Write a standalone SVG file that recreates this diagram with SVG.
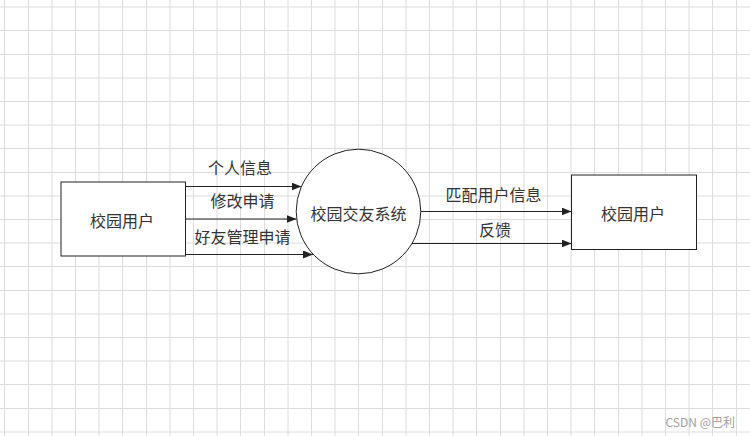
<svg xmlns="http://www.w3.org/2000/svg" width="750" height="436" viewBox="0 0 750 436">
<defs>
<style>
.grid{stroke:#dcdcdc;stroke-width:1;fill:none}
.shape{fill:#ffffff;stroke:#222222;stroke-width:1}
.edge{stroke:#222222;stroke-width:1;fill:none;marker-end:url(#arr)}
.t{font-family:"Noto Sans CJK SC","Noto Sans",sans-serif;font-size:16px;fill:#333333;text-anchor:middle;dominant-baseline:central}
.wm{font-family:"Noto Sans CJK SC","Noto Sans",sans-serif;font-size:12px;fill:#a0a0a0;text-anchor:end;dominant-baseline:central}
</style>
<marker id="arr" markerUnits="userSpaceOnUse" markerWidth="10" markerHeight="8" refX="10" refY="4" orient="auto">
<path d="M0,0 L10,4 L0,8 Z" fill="#222222"/>
</marker>
</defs>
<rect width="750" height="436" fill="#ffffff"/>
<path class="grid" d="M4.5,0V436M28.5,0V436M52,0V436M75.5,0V436M99,0V436M122.5,0V436M146.5,0V436M170,0V436M193.5,0V436M217,0V436M240.5,0V436M264.5,0V436M288,0V436M311.5,0V436M335,0V436M358.5,0V436M382.5,0V436M406,0V436M429.5,0V436M453,0V436M476.5,0V436M500.5,0V436M524,0V436M547.5,0V436M571,0V436M594.5,0V436M618.5,0V436M642,0V436M665.5,0V436M689,0V436M712.5,0V436M736.5,0V436 M0,7H750M0,30.5H750M0,54.5H750M0,78H750M0,101.5H750M0,125H750M0,148.5H750M0,172.5H750M0,196H750M0,219.5H750M0,243H750M0,266.5H750M0,290.5H750M0,314H750M0,337.5H750M0,361H750M0,384.5H750M0,408.5H750M0,432H750"/>
<g id="edges">
<line class="edge" x1="185.5" y1="186.5" x2="301.5" y2="186.5"/>
<line class="edge" x1="185.5" y1="219" x2="296.5" y2="219"/>
<line class="edge" x1="185.5" y1="254.5" x2="313" y2="254.5"/>
<line class="edge" x1="420.5" y1="211.5" x2="571.5" y2="211.5"/>
<line class="edge" x1="412" y1="243.5" x2="571.5" y2="243.5"/>
<text class="t" x="240" y="167">个人信息</text>
<text class="t" x="242.5" y="200">修改申请</text>
<text class="t" x="242.5" y="236">好友管理申请</text>
<text class="t" x="493.5" y="193.5">匹配用户信息</text>
<text class="t" x="495" y="228.5">反馈</text>
</g>
<g id="user-left">
<rect class="shape" x="61" y="182" width="124.5" height="74"/>
<text class="t" x="122" y="219.5">校园用户</text>
</g>
<g id="system">
<circle class="shape" cx="358.5" cy="211.5" r="62.3"/>
<text class="t" x="358.5" y="212.5">校园交友系统</text>
</g>
<g id="user-right">
<rect class="shape" x="571.5" y="175" width="125" height="74.5"/>
<text class="t" x="633" y="212.5">校园用户</text>
</g>
<text class="wm" x="735" y="421">CSDN @巴利</text>
</svg>
